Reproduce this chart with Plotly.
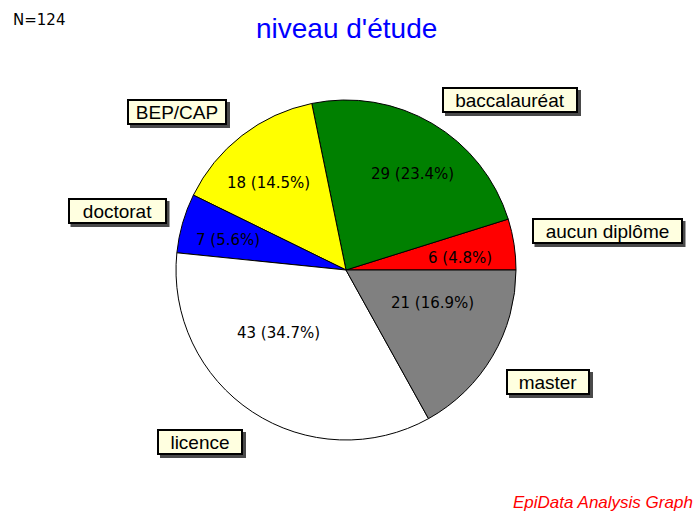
import math
import plotly.graph_objects as go

W, H = 698, 514

categories = ["aucun diplôme", "baccalauréat", "BEP/CAP", "doctorat", "licence", "master"]
counts = [6, 29, 18, 7, 43, 21]
colors = ["#ff0000", "#008000", "#ffff00", "#0000ff", "#ffffff", "#808080"]
title_text = "niveau d'étude"
n_text = "N=124"
footer_text = "EpiData Analysis Graph"

# label boxes: center (px) and outer width (px)
label_box = {
    "aucun diplôme": (607, 231, 151),
    "baccalauréat": (510, 100, 136),
    "BEP/CAP": (177, 112, 100),
    "doctorat": (117, 211, 99),
    "licence": (200, 442, 86),
    "master": (548, 382, 84),
}
BOX_H = 26
# placement of value texts: (fraction of radius, angle offset from slice middle in degrees)
value_place = [(0.674, -2.7), (0.689, -4.4), (0.683, 3.8), (0.716, 1.7), (0.541, -13.4), (0.547, 9.7)]

cx, cy, r = 346, 270, 170
total = sum(counts)

fig = go.Figure()
fig.add_trace(go.Pie(
    labels=categories,
    values=counts,
    sort=False,
    direction="counterclockwise",
    rotation=90 - 360 * counts[0] / total,
    marker=dict(colors=colors, line=dict(color="#000000", width=1)),
    textinfo="none",
    domain=dict(x=[(cx - r) / W, (cx + r) / W], y=[1 - (cy + r) / H, 1 - (cy - r) / H]),
    showlegend=False,
    hoverinfo="label+value+percent",
))

def px(x, y):
    return x / W, 1 - y / H

annotations = []
shapes = []

# value labels inside slices
start = 0.0
for cat, v, (f, off) in zip(categories, counts, value_place):
    ang = start + 360 * v / total / 2 + off
    start += 360 * v / total
    x = cx + f * r * math.cos(math.radians(ang))
    y = cy - f * r * math.sin(math.radians(ang))
    ax, ay = px(x, y)
    annotations.append(dict(
        x=ax, y=ay, xref="paper", yref="paper",
        text=f"{v} ({100 * v / total:.1f}%)", showarrow=False,
        font=dict(family="DejaVu Sans", size=15, color="#000000"),
        xanchor="center", yanchor="middle",
    ))

# category label boxes with drop shadow
for cat in categories:
    x, y, w = label_box[cat]
    x0, y1 = px(x - w / 2 + 3, y - BOX_H / 2 + 3)
    x1, y0 = px(x + w / 2 + 3, y + BOX_H / 2 + 3)
    shapes.append(dict(type="rect", xref="paper", yref="paper",
                       x0=x0, x1=x1, y0=y0, y1=y1,
                       fillcolor="#4a4a4a", line=dict(width=0)))
    ax, ay = px(x, y)
    annotations.append(dict(
        x=ax, y=ay, xref="paper", yref="paper", text=cat, showarrow=False,
        font=dict(family="Liberation Sans", size=19, color="#000000"),
        bgcolor="#ffffe0", bordercolor="#000000", borderwidth=2, borderpad=0,
        width=w - 4, height=BOX_H - 4, align="center", valign="middle",
        xanchor="center", yanchor="middle",
    ))

annotations.append(dict(
    x=px(346, 28)[0], y=px(346, 28)[1], xref="paper", yref="paper", text=title_text,
    showarrow=False, font=dict(family="Liberation Sans", size=28, color="#0000ff"),
    xanchor="center", yanchor="middle",
))
annotations.append(dict(
    x=px(11, 20)[0], y=px(11, 20)[1], xref="paper", yref="paper", text=n_text,
    showarrow=False, font=dict(family="DejaVu Sans", size=15, color="#000000"),
    xanchor="left", yanchor="middle",
))
annotations.append(dict(
    x=px(695, 502)[0], y=px(695, 502)[1], xref="paper", yref="paper",
    text="<i>" + footer_text + "</i>",
    showarrow=False, font=dict(family="Liberation Sans", size=17, color="#ff0000"),
    xanchor="right", yanchor="middle",
))

fig.update_layout(
    width=W, height=H,
    margin=dict(l=0, r=0, t=0, b=0),
    paper_bgcolor="#ffffff", plot_bgcolor="#ffffff",
    annotations=annotations,
    shapes=shapes,
)

fig.write_html("out.html", config={"displayModeBar": False},
               post_script="document.body.style.margin='0';document.body.style.overflow='hidden';")
